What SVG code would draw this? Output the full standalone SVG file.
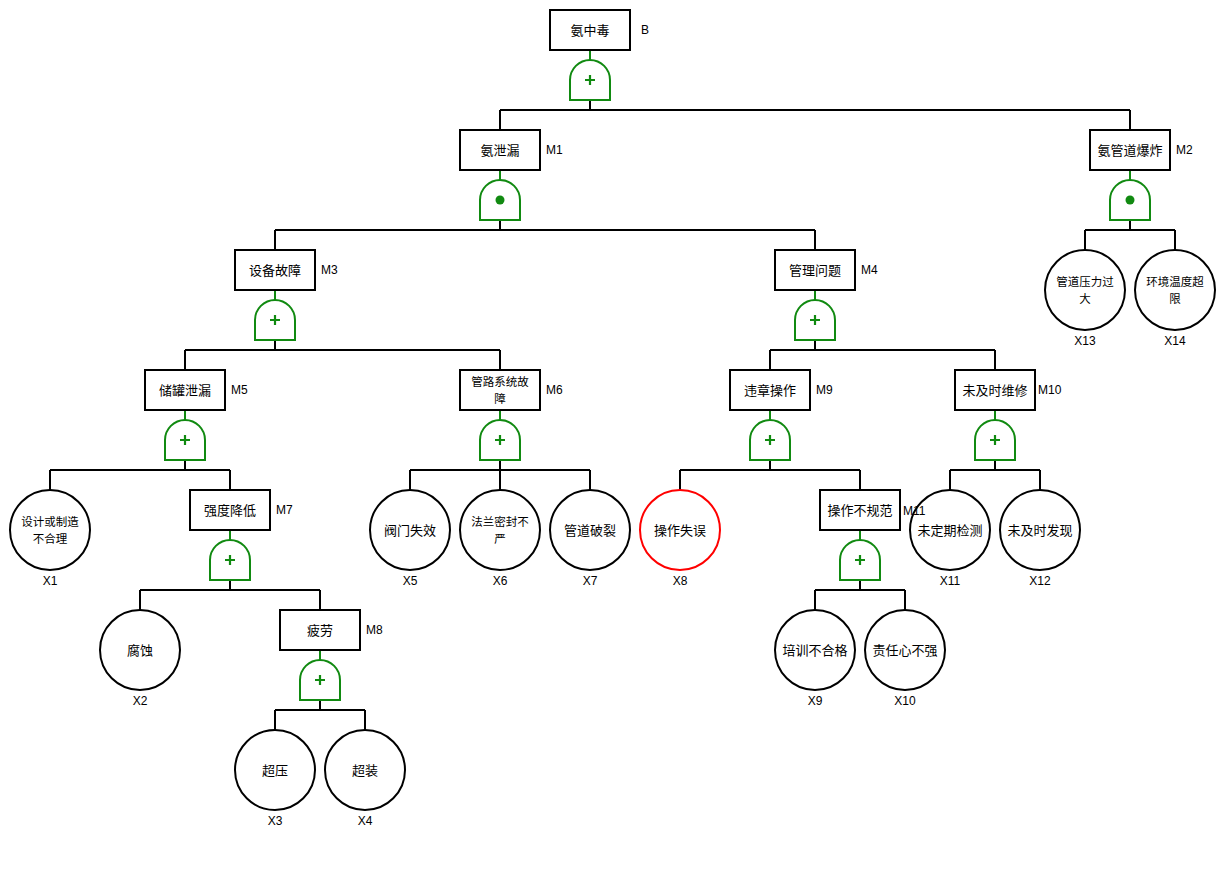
<svg xmlns="http://www.w3.org/2000/svg" width="1225" height="870" viewBox="0 0 1225 870">
<style>
.box{fill:#fff;stroke:#000;stroke-width:2}
.ev{fill:#fff;stroke:#000;stroke-width:2}
.red{stroke:#f00}
.gate{fill:#fff;stroke:#118a11;stroke-width:2}
.gl{stroke:#118a11;stroke-width:2;fill:none}
.sym{stroke:#118a11;stroke-width:2.2;fill:none}
.dot{fill:#118a11}
.ln{stroke:#000;stroke-width:2;fill:none}
.t{font-family:"Noto Sans CJK SC","Noto Sans",sans-serif;font-size:13px;fill:#000;text-anchor:middle}
.t2{font-family:"Noto Sans CJK SC","Noto Sans",sans-serif;font-size:11.5px;fill:#000;text-anchor:middle}
.lb{font-family:"Liberation Sans",Arial,sans-serif;font-size:12px;fill:#000}
.xl{font-family:"Liberation Sans",Arial,sans-serif;font-size:12px;fill:#000;text-anchor:middle}
</style>
<defs>
<path id="g" d="M-20,40 V20 A20 20 0 0 1 20,20 V40 Z"/>
</defs>
<g id="connectors">
<path class="gl" d="M590,50V60 M500,170V180 M1130,170V180 M275,290V300 M815,290V300 M185,410V420 M500,410V420 M770,410V420 M995,410V420 M230,530V540 M860,530V540 M320,650V660"/>
<path class="ln" d="M590,100V110 M500,110H1130 M500,110V130 M1130,110V130"/>
<path class="ln" d="M500,220V230 M275,230H815 M275,230V250 M815,230V250"/>
<path class="ln" d="M1130,220V230 M1085,230H1175 M1085,230V250 M1175,230V250"/>
<path class="ln" d="M275,340V350 M185,350H500 M185,350V370 M500,350V370"/>
<path class="ln" d="M815,340V350 M770,350H995 M770,350V370 M995,350V370"/>
<path class="ln" d="M185,460V470 M50,470H230 M50,470V490 M230,470V490"/>
<path class="ln" d="M500,460V470 M410,470H590 M410,470V490 M500,470V490 M590,470V490"/>
<path class="ln" d="M770,460V470 M680,470H860 M680,470V490 M860,470V490"/>
<path class="ln" d="M995,460V470 M950,470H1040 M950,470V490 M1040,470V490"/>
<path class="ln" d="M230,580V590 M140,590H320 M140,590V610 M320,590V610"/>
<path class="ln" d="M860,580V590 M815,590H905 M815,590V610 M905,590V610"/>
<path class="ln" d="M320,700V710 M275,710H365 M275,710V730 M365,710V730"/>
</g>
<g id="B"><rect class="box" x="550" y="10" width="80" height="40"/><text class="t" x="590" y="34.5">氨中毒</text>
<use href="#g" class="gate" x="590" y="60"/><path class="sym" d="M585,80H595M590,75V85"/></g>
<g id="M1"><rect class="box" x="460" y="130" width="80" height="40"/><text class="t" x="500" y="154.5">氨泄漏</text>
<use href="#g" class="gate" x="500" y="180"/><circle class="dot" cx="500" cy="200" r="4.5"/></g>
<g id="M2"><rect class="box" x="1090" y="130" width="80" height="40"/><text class="t" x="1130" y="154.5">氨管道爆炸</text>
<use href="#g" class="gate" x="1130" y="180"/><circle class="dot" cx="1130" cy="200" r="4.5"/></g>
<g id="M3"><rect class="box" x="235" y="250" width="80" height="40"/><text class="t" x="275" y="274.5">设备故障</text>
<use href="#g" class="gate" x="275" y="300"/><path class="sym" d="M270,320H280M275,315V325"/></g>
<g id="M4"><rect class="box" x="775" y="250" width="80" height="40"/><text class="t" x="815" y="274.5">管理问题</text>
<use href="#g" class="gate" x="815" y="300"/><path class="sym" d="M810,320H820M815,315V325"/></g>
<g id="X13"><circle class="ev" cx="1085" cy="290" r="40"/><text class="t2" x="1085" y="286">管道压力过<tspan x="1085" dy="16.7">大</tspan></text></g>
<g id="X14"><circle class="ev" cx="1175" cy="290" r="40"/><text class="t2" x="1175" y="286">环境温度超<tspan x="1175" dy="16.7">限</tspan></text></g>
<g id="M5"><rect class="box" x="145" y="370" width="80" height="40"/><text class="t" x="185" y="394.5">储罐泄漏</text>
<use href="#g" class="gate" x="185" y="420"/><path class="sym" d="M180,440H190M185,435V445"/></g>
<g id="M6"><rect class="box" x="460" y="370" width="80" height="40"/><text class="t2" x="500" y="386">管路系统故<tspan x="500" dy="16.7">障</tspan></text>
<use href="#g" class="gate" x="500" y="420"/><path class="sym" d="M495,440H505M500,435V445"/></g>
<g id="M9"><rect class="box" x="730" y="370" width="80" height="40"/><text class="t" x="770" y="394.5">违章操作</text>
<use href="#g" class="gate" x="770" y="420"/><path class="sym" d="M765,440H775M770,435V445"/></g>
<g id="M10"><rect class="box" x="955" y="370" width="80" height="40"/><text class="t" x="995" y="394.5">未及时维修</text>
<use href="#g" class="gate" x="995" y="420"/><path class="sym" d="M990,440H1000M995,435V445"/></g>
<g id="X1"><circle class="ev" cx="50" cy="530" r="40"/><text class="t2" x="50" y="526">设计或制造<tspan x="50" dy="16.7">不合理</tspan></text></g>
<g id="M7"><rect class="box" x="190" y="490" width="80" height="40"/><text class="t" x="230" y="514.5">强度降低</text>
<use href="#g" class="gate" x="230" y="540"/><path class="sym" d="M225,560H235M230,555V565"/></g>
<g id="X5"><circle class="ev" cx="410" cy="530" r="40"/><text class="t" x="410" y="534.5">阀门失效</text></g>
<g id="X6"><circle class="ev" cx="500" cy="530" r="40"/><text class="t2" x="500" y="526">法兰密封不<tspan x="500" dy="16.7">严</tspan></text></g>
<g id="X7"><circle class="ev" cx="590" cy="530" r="40"/><text class="t" x="590" y="534.5">管道破裂</text></g>
<g id="X8"><circle class="ev red" cx="680" cy="530" r="40"/><text class="t" x="680" y="534.5">操作失误</text></g>
<g id="M11"><rect class="box" x="820" y="490" width="80" height="40"/><text class="t" x="860" y="514.5">操作不规范</text>
<use href="#g" class="gate" x="860" y="540"/><path class="sym" d="M855,560H865M860,555V565"/></g>
<g id="X11"><circle class="ev" cx="950" cy="530" r="40"/><text class="t" x="950" y="534.5">未定期检测</text></g>
<g id="X12"><circle class="ev" cx="1040" cy="530" r="40"/><text class="t" x="1040" y="534.5">未及时发现</text></g>
<g id="X2"><circle class="ev" cx="140" cy="650" r="40"/><text class="t" x="140" y="654.5">腐蚀</text></g>
<g id="M8"><rect class="box" x="280" y="610" width="80" height="40"/><text class="t" x="320" y="634.5">疲劳</text>
<use href="#g" class="gate" x="320" y="660"/><path class="sym" d="M315,680H325M320,675V685"/></g>
<g id="X9"><circle class="ev" cx="815" cy="650" r="40"/><text class="t" x="815" y="654.5">培训不合格</text></g>
<g id="X10"><circle class="ev" cx="905" cy="650" r="40"/><text class="t" x="905" y="654.5">责任心不强</text></g>
<g id="X3"><circle class="ev" cx="275" cy="770" r="40"/><text class="t" x="275" y="774.5">超压</text></g>
<g id="X4"><circle class="ev" cx="365" cy="770" r="40"/><text class="t" x="365" y="774.5">超装</text></g>
<g id="labels">
<text class="lb" x="641" y="34">B</text>
<text class="lb" x="546" y="154">M1</text>
<text class="lb" x="1176" y="154">M2</text>
<text class="lb" x="321" y="274">M3</text>
<text class="lb" x="861" y="274">M4</text>
<text class="lb" x="231" y="394">M5</text>
<text class="lb" x="546" y="394">M6</text>
<text class="lb" x="816" y="394">M9</text>
<text class="lb" x="1038" y="394">M10</text>
<text class="lb" x="276" y="514">M7</text>
<text class="lb" x="903" y="515">M11</text>
<text class="lb" x="366" y="634">M8</text>
<text class="xl" x="1085" y="345">X13</text>
<text class="xl" x="1175" y="345">X14</text>
<text class="xl" x="50" y="585">X1</text>
<text class="xl" x="410" y="585">X5</text>
<text class="xl" x="500" y="585">X6</text>
<text class="xl" x="590" y="585">X7</text>
<text class="xl" x="680" y="585">X8</text>
<text class="xl" x="950" y="585">X11</text>
<text class="xl" x="1040" y="585">X12</text>
<text class="xl" x="140" y="705">X2</text>
<text class="xl" x="815" y="705">X9</text>
<text class="xl" x="905" y="705">X10</text>
<text class="xl" x="275" y="825">X3</text>
<text class="xl" x="365" y="825">X4</text>
</g>
</svg>
